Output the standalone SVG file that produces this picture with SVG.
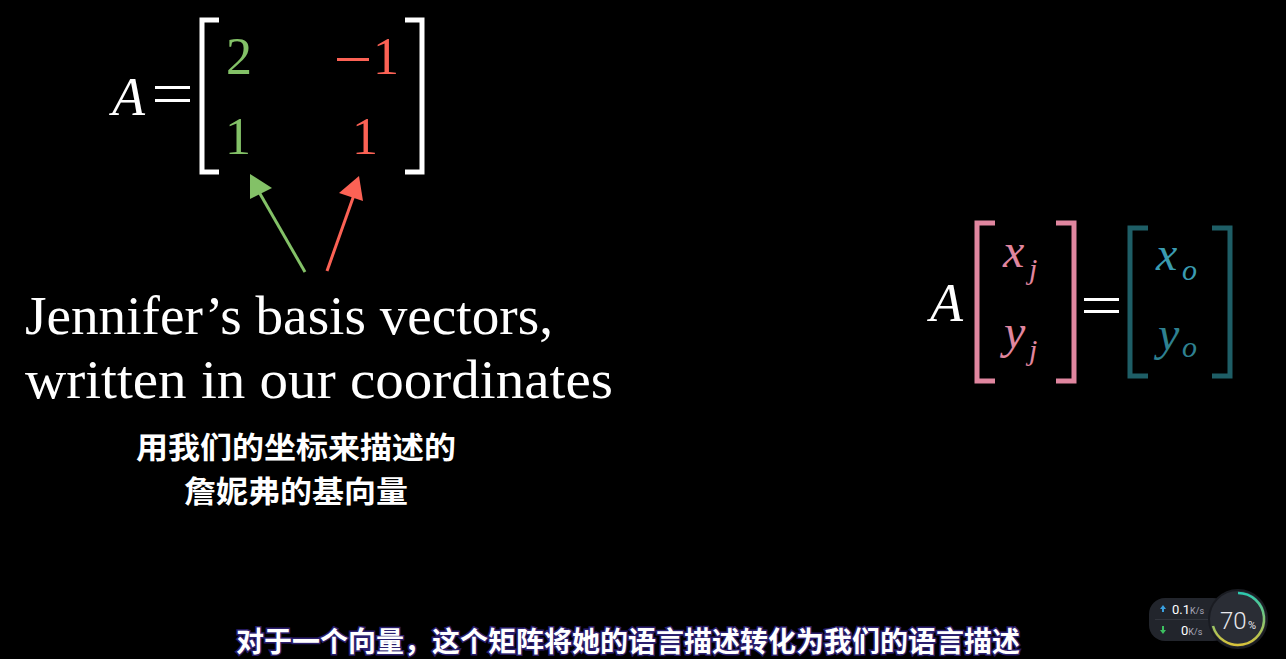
<svg xmlns="http://www.w3.org/2000/svg" width="1286" height="659" viewBox="0 0 1286 659">
<defs>
<style>
.serif{font-family:"Liberation Serif","DejaVu Serif",serif;}
.mi{font-family:"Liberation Serif","DejaVu Serif",serif;font-style:italic;}
.cjk{font-family:"Noto Sans CJK SC","Noto Sans",sans-serif;font-weight:bold;}
.br{fill:none;stroke-width:5;stroke-linecap:butt;}
</style>
<linearGradient id="arc" x1="0" y1="0" x2="0" y2="1">
<stop offset="0" stop-color="#2cc9b0"/>
<stop offset="1" stop-color="#d8c23a"/>
</linearGradient>
</defs>
<rect width="1286" height="659" fill="#000"/>

<g id="matrix-A">
<text x="112" y="115" class="mi" font-size="54" fill="#fff">A</text>
<rect x="155" y="86" width="35" height="3" fill="#fff"/>
<rect x="155" y="99" width="35" height="3" fill="#fff"/>
<polyline class="br" stroke="#fff" points="219,20 202,20 202,172 219,172"/>
<polyline class="br" stroke="#fff" points="405,20 422,20 422,172 405,172"/>
<text x="239" y="74" class="serif" font-size="52" fill="#83C167" text-anchor="middle">2</text>
<rect x="337" y="58" width="32" height="3" fill="#FC6255"/>
<text x="386" y="74" class="serif" font-size="52" fill="#FC6255" text-anchor="middle">1</text>
<text x="238" y="154" class="serif" font-size="52" fill="#83C167" text-anchor="middle">1</text>
<text x="365" y="154" class="serif" font-size="52" fill="#FC6255" text-anchor="middle">1</text>
</g>

<g id="connectors">
<line x1="305" y1="272" x2="259" y2="192" stroke="#83C167" stroke-width="3"/>
<polygon points="250,174 250,199 272,188" fill="#83C167"/>
<line x1="327" y1="271" x2="354" y2="195" stroke="#FC6255" stroke-width="3"/>
<polygon points="359,176 339,193 363,201" fill="#FC6255"/>
</g>

<g id="label-en">
<text x="25" y="334" class="serif" font-size="54" fill="#fff" textLength="528" lengthAdjust="spacingAndGlyphs">Jennifer’s basis vectors,</text>
<text x="25" y="398" class="serif" font-size="54" fill="#fff" textLength="588" lengthAdjust="spacingAndGlyphs">written in our coordinates</text>
</g>

<g id="label-zh">
<text x="296" y="458" class="cjk" font-size="30" fill="#fff" text-anchor="middle" textLength="320" lengthAdjust="spacingAndGlyphs">用我们的坐标来描述的</text>
<text x="296" y="502" class="cjk" font-size="30" fill="#fff" text-anchor="middle" textLength="224" lengthAdjust="spacingAndGlyphs">詹妮弗的基向量</text>
</g>

<g id="equation">
<text x="930" y="321" class="mi" font-size="54" fill="#fff">A</text>
<polyline class="br" stroke="#E0869F" points="995,223 977,223 977,381 995,381"/>
<polyline class="br" stroke="#E0869F" points="1056,223 1074,223 1074,381 1056,381"/>
<text x="1003" y="267" class="mi" font-size="48" fill="#E0869F">x</text>
<text x="1029" y="279" class="mi" font-size="30" fill="#E0869F">j</text>
<text x="1004" y="348" class="mi" font-size="48" fill="#E0869F">y</text>
<text x="1029" y="360" class="mi" font-size="30" fill="#E0869F">j</text>
<rect x="1084" y="298" width="35" height="3" fill="#fff"/>
<rect x="1084" y="310" width="35" height="3" fill="#fff"/>
<polyline class="br" stroke="#1E5E66" points="1148,228 1130,228 1130,376 1148,376"/>
<polyline class="br" stroke="#1E5E66" points="1212,228 1230,228 1230,376 1212,376"/>
<text x="1156" y="270" class="mi" font-size="48" fill="#3A9BB0">x</text>
<text x="1182" y="280" class="mi" font-size="30" fill="#3A9BB0">o</text>
<text x="1158" y="350" class="mi" font-size="48" fill="#2E8090">y</text>
<text x="1182" y="357" class="mi" font-size="30" fill="#2E8090">o</text>
</g>

<g id="net-widget">
<rect x="1149" y="598" width="80" height="43" rx="16" fill="#22252c"/>
<line x1="1155" y1="619.5" x2="1212" y2="619.5" stroke="#33363e" stroke-width="1"/>
<polygon points="1163,605 1160,609 1166,609" fill="#3aa0e0"/>
<rect x="1162" y="608" width="2" height="4" fill="#3aa0e0"/>
<text x="1172" y="614" font-family="Roboto,'Noto Sans',sans-serif" font-size="13" fill="#fff">0.1<tspan font-size="9" fill="#aab">K/s</tspan></text>
<polygon points="1163,634 1160,630 1166,630" fill="#3cc060"/>
<rect x="1162" y="626" width="2" height="4" fill="#3cc060"/>
<text x="1181" y="635" font-family="Roboto,'Noto Sans',sans-serif" font-size="13" fill="#fff">0<tspan font-size="9" fill="#aab">K/s</tspan></text>
<circle cx="1238" cy="619" r="29" fill="#2a2d35" stroke="#1a1c22" stroke-width="2"/>
<path d="M1238,593 A26,26 0 1,1 1213,626" fill="none" stroke="url(#arc)" stroke-width="2.5"/>
<text x="1220" y="629" font-family="Roboto,'Noto Sans',sans-serif" font-size="24" font-weight="300" fill="#e8e8ee">70</text>
<text x="1248" y="629" font-family="Roboto,'Noto Sans',sans-serif" font-size="11" fill="#e8e8ee">%</text>
</g>

<g id="subtitle">
<text x="628" y="652" class="cjk" font-size="28" fill="#fff" stroke="#2b1f6e" stroke-width="3" paint-order="stroke" text-anchor="middle">对于一个向量，这个矩阵将她的语言描述转化为我们的语言描述</text>
</g>
</svg>
